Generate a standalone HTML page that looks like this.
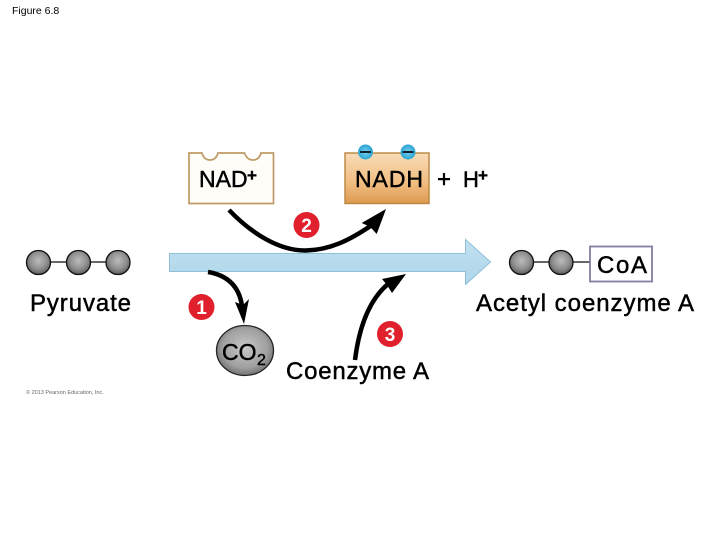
<!DOCTYPE html>
<html>
<head>
<meta charset="utf-8">
<style>
html,body{margin:0;padding:0;background:#fff;width:720px;height:540px;overflow:hidden}
svg{display:block}
text{font-family:"Liberation Sans",sans-serif;fill:#000}
.t{stroke:#000;stroke-width:.45px}
.w{fill:#fff;font-weight:bold}
</style>
</head>
<body>
<svg width="720" height="540" viewBox="0 0 720 540" xmlns="http://www.w3.org/2000/svg">
<defs>
<radialGradient id="b" cx="50%" cy="42%" r="60%">
<stop offset="0" stop-color="#bcbcbc"/><stop offset="0.6" stop-color="#8e8e8e"/><stop offset="1" stop-color="#555"/>
</radialGradient>
<radialGradient id="co" cx="50%" cy="45%" r="60%">
<stop offset="0" stop-color="#c8c8c8"/><stop offset="0.65" stop-color="#a0a0a0"/><stop offset="1" stop-color="#666"/>
</radialGradient>
<linearGradient id="n" x1="0" y1="0" x2="0" y2="1">
<stop offset="0" stop-color="#f8dcb8"/><stop offset="0.6" stop-color="#f0bd80"/><stop offset="1" stop-color="#dc9a50"/>
</linearGradient>
<radialGradient id="e" cx="50%" cy="50%" r="55%">
<stop offset="0" stop-color="#7cd0ee"/><stop offset="1" stop-color="#22a0d0"/>
</radialGradient>
<linearGradient id="ar" x1="0" y1="0" x2="0" y2="1">
<stop offset="0" stop-color="#c2e0f0"/><stop offset="1" stop-color="#aed6ea"/>
</linearGradient>
</defs>

<text x="12" y="14" font-size="10.500">Figure 6.8</text>

<!-- Main arrow -->
<path d="M169.500 253.500H465.500V239.500L490.500 262L465.500 284.500V271.500H169.500Z" fill="url(#ar)" stroke="#8fc0d8" stroke-width="1"/>

<!-- NAD+ -->
<path d="M189 153H202Q204 160 210 160Q216 160 218 153H244.500Q247 160 253 160Q259 160 261 153H273.500V203.500H189Z" fill="#fffdf8" stroke="#c09a66" stroke-width="1.700"/>
<text class="t" x="199" y="187" font-size="23">NAD</text>
<text class="t" x="247" y="181" font-size="17" font-weight="bold">+</text>

<!-- NADH -->
<rect x="345" y="153" width="84" height="50.500" fill="url(#n)" stroke="#b9853f" stroke-width="1.400"/>
<circle cx="365.500" cy="152" r="7.500" fill="url(#e)"/>
<rect x="360" y="151" width="11" height="2" fill="#123"/>
<circle cx="408" cy="152" r="7.500" fill="url(#e)"/>
<rect x="402.500" y="151" width="11" height="2" fill="#123"/>
<text class="t" x="355" y="187" font-size="23" textLength="68" lengthAdjust="spacing">NADH</text>

<!-- + H+ -->
<text class="t" x="437" y="187" font-size="24">+</text>
<text class="t" x="463" y="187" font-size="22">H</text>
<text class="t" x="478" y="181" font-size="17" font-weight="bold">+</text>

<!-- Arrow 2 -->
<path d="M229 210C252 234 280 251 306 250.500C330 250 350 240 372 225" fill="none" stroke="#000" stroke-width="4.500"/>
<path d="M386 209L376.700 234L370 226.700L361.700 223Z" fill="#000"/>
<circle cx="306.500" cy="225" r="13" fill="#e0202c"/>
<text class="w" x="306.500" y="232" font-size="19" text-anchor="middle">2</text>

<!-- Pyruvate -->
<line x1="38" y1="262" x2="118" y2="262" stroke="#666" stroke-width="2"/>
<circle cx="38.500" cy="262.500" r="12" fill="url(#b)" stroke="#111" stroke-width="1.300"/>
<circle cx="78.500" cy="262.500" r="12" fill="url(#b)" stroke="#111" stroke-width="1.300"/>
<circle cx="118" cy="262.500" r="12" fill="url(#b)" stroke="#111" stroke-width="1.300"/>
<text class="t" x="30" y="311" font-size="24" textLength="101" lengthAdjust="spacing">Pyruvate</text>

<!-- Arrow 1 -->
<path d="M208 272C226 275 239 285 242 306" fill="none" stroke="#000" stroke-width="4.500"/>
<path d="M244 324L235 302L243 305L249 299Z" fill="#000"/>
<circle cx="201.500" cy="307" r="13" fill="#e0202c"/>
<text class="w" x="201.500" y="314" font-size="19" text-anchor="middle">1</text>

<!-- CO2 -->
<ellipse cx="245" cy="350.500" rx="28.500" ry="25" fill="url(#co)" stroke="#222" stroke-width="1.300"/>
<text class="t" x="222" y="360" font-size="23">CO</text>
<text class="t" x="257" y="365" font-size="16">2</text>

<!-- Arrow 3 -->
<path d="M355 360C359 328 369 300 388 284" fill="none" stroke="#000" stroke-width="4.500"/>
<path d="M406 274L392 293L387 285L382 279Z" fill="#000"/>
<circle cx="390" cy="334" r="13" fill="#e0202c"/>
<text class="w" x="390" y="341" font-size="19" text-anchor="middle">3</text>
<text class="t" x="286" y="379" font-size="24" textLength="143" lengthAdjust="spacing">Coenzyme A</text>

<!-- Acetyl CoA -->
<line x1="521" y1="262" x2="590" y2="262" stroke="#666" stroke-width="2"/>
<circle cx="521.500" cy="262.500" r="12" fill="url(#b)" stroke="#111" stroke-width="1.300"/>
<circle cx="561" cy="262.500" r="12" fill="url(#b)" stroke="#111" stroke-width="1.300"/>
<rect x="590" y="246.500" width="62" height="35" fill="#fff" stroke="#8080a0" stroke-width="1.800"/>
<text class="t" x="597" y="273" font-size="24" textLength="50" lengthAdjust="spacing">CoA</text>
<text class="t" x="476" y="311" font-size="24" textLength="218" lengthAdjust="spacing">Acetyl coenzyme A</text>

<!-- Copyright -->
<text x="26" y="394" font-size="5.500" style="fill:#666">© 2013 Pearson Education, Inc.</text>
</svg>
</body>
</html>
